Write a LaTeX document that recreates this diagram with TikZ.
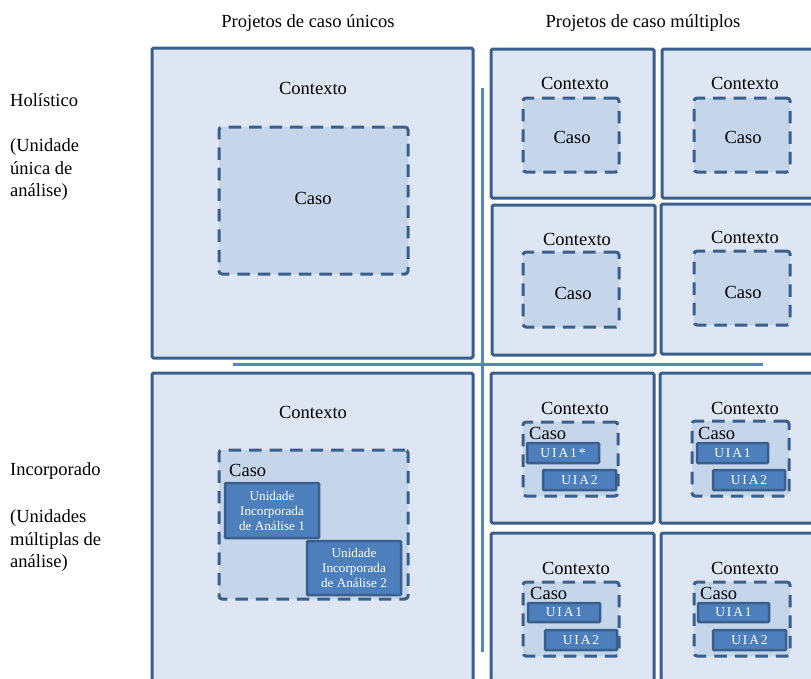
\documentclass[tikz,border=0pt]{standalone}
\usepackage{fontspec}
\setmainfont{Liberation Serif}
\usetikzlibrary{fit}
\definecolor{bordc}{HTML}{3A5F8D}
\definecolor{ctxfill}{HTML}{DDE6F2}
\definecolor{casefill}{HTML}{C5D5EA}
\definecolor{unitfill}{HTML}{4D7FBC}
\definecolor{divc}{HTML}{5585C3}
\begin{document}
\begin{tikzpicture}[x=1pt,y=-1pt,
  ctxbox/.style={draw=bordc, fill=ctxfill, line width=3pt, rounded corners=1.5pt, inner sep=0pt},
  casebox/.style={draw=bordc, fill=casefill, line width=3pt, dash pattern=on 12.5pt off 8pt, rounded corners=3pt, inner sep=0pt},
  unitbox/.style={draw=bordc, fill=unitfill, line width=2.5pt, rounded corners=1pt, inner sep=0pt},
  divider/.style={draw=divc, line width=3pt},
  lbl/.style={font=\fontsize{18.5}{20.5}\selectfont, inner sep=0pt},
  sidelbl/.style={font=\fontsize{18.5}{22.5}\selectfont, inner sep=0pt, align=left, anchor=west},
  unitlbl/.style={font=\fontsize{13.2}{15}\selectfont, text=white, align=center, inner sep=0pt},
  uialbl/.style={font=\fontsize{13.5}{15}\selectfont\addfontfeature{LetterSpace=14}, text=white, inner sep=0pt}
]
\useasboundingbox (0,0) rectangle (811,678);
\clip (0,0) rectangle (811,678);
\fill[white] (0,0) rectangle (811,678);

% headers
\node[lbl] (h1) at (308,23) {Projetos de caso únicos};
\node[lbl] (h2) at (643,23) {Projetos de caso múltiplos};

% side labels
\node[sidelbl] (s1) at (10,100) {Holístico};
\node[sidelbl] (s2) at (10,170) {(Unidade\\única de\\análise)};
\node[sidelbl] (s3) at (10,471) {Incorporado};
\node[sidelbl] (s4) at (10,541) {(Unidades\\múltiplas de\\análise)};

% dividers
\coordinate (vt) at (482,88);
\coordinate (vb) at (482,652);
\coordinate (hl) at (233,364);
\coordinate (hr) at (763,364);
\draw[divider] (vt) -- (vb);
\draw[divider] (hl) -- (hr);

% ---- single holistic
\node[ctxbox, fit={(152,48)(473,358)}] (bA) {};
\node[lbl] (tA) at (313,88) {Contexto};
\node[casebox, fit={(219,127)(408,274)}] (cA) {};
\node[lbl] (kA) at (313,198) {Caso};

% ---- single embedded
\node[ctxbox, fit={(152,373)(473,700)}] (bB) {};
\node[lbl] (tB) at (313,412) {Contexto};
\node[casebox, fit={(219,450)(408,599)}] (cB) {};
\node[lbl, anchor=west] (kB) at (229,470) {Caso};
\node[unitbox, fit={(225,483)(319,538)}] (uB1) {};
\node[unitlbl] at (uB1.center) {Unidade\\Incorporada\\de Análise 1};
\node[unitbox, fit={(307,541)(401,595)}] (uB2) {};
\node[unitlbl] at (uB2.center) {Unidade\\Incorporada\\de Análise 2};

% ---- multiple holistic row 1
\node[ctxbox, fit={(491,49)(654,198)}] (b1) {};
\node[lbl] (t1) at (575,83) {Contexto};
\node[casebox, fit={(523,98)(619,172)}] (c1) {};
\node[lbl] (k1) at (572,137) {Caso};

\node[ctxbox, fit={(662,49)(830,198)}] (b2) {};
\node[lbl] (t2) at (745,83) {Contexto};
\node[casebox, fit={(694,98)(790,172)}] (c2) {};
\node[lbl] (k2) at (743,137) {Caso};

% row 2
\node[ctxbox, fit={(492,205)(655,355)}] (b3) {};
\node[lbl] (t3) at (577,239) {Contexto};
\node[casebox, fit={(523,252)(619,327)}] (c3) {};
\node[lbl] (k3) at (573,293) {Caso};

\node[ctxbox, fit={(661,204)(830,354)}] (b4) {};
\node[lbl] (t4) at (745,237) {Contexto};
\node[casebox, fit={(694,251)(790,325)}] (c4) {};
\node[lbl] (k4) at (743,292) {Caso};

% ---- multiple embedded row 3
\node[ctxbox, fit={(491,373)(654,523)}] (b5) {};
\node[lbl] (t5) at (575,408) {Contexto};
\node[casebox, fit={(523,422)(618,496)}] (c5) {};
\node[lbl, anchor=west] (k5) at (529,433) {Caso};
\node[unitbox, fit={(527,443)(599,463)}] (u51) {};
\node[uialbl] at (u51.center) {UIA1*};
\node[unitbox, fit={(543,470)(616,490)}] (u52) {};
\node[uialbl] at (u52.center) {UIA2};

\node[ctxbox, fit={(660,373)(830,523)}] (b6) {};
\node[lbl] (t6) at (745,408) {Contexto};
\node[casebox, fit={(692,421)(789,496)}] (c6) {};
\node[lbl, anchor=west] (k6) at (698,433) {Caso};
\node[unitbox, fit={(697,443)(768,463)}] (u61) {};
\node[uialbl] at (u61.center) {UIA1};
\node[unitbox, fit={(713,470)(785,490)}] (u62) {};
\node[uialbl] at (u62.center) {UIA2};

% row 4
\node[ctxbox, fit={(491,533)(654,700)}] (b7) {};
\node[lbl] (t7) at (576,568) {Contexto};
\node[casebox, fit={(523,582)(619,656)}] (c7) {};
\node[lbl, anchor=west] (k7) at (530,593) {Caso};
\node[unitbox, fit={(528,603)(600,622)}] (u71) {};
\node[uialbl] at (u71.center) {UIA1};
\node[unitbox, fit={(545,630)(617,650)}] (u72) {};
\node[uialbl] at (u72.center) {UIA2};

\node[ctxbox, fit={(661,533)(830,700)}] (b8) {};
\node[lbl] (t8) at (745,568) {Contexto};
\node[casebox, fit={(694,582)(790,656)}] (c8) {};
\node[lbl, anchor=west] (k8) at (700,593) {Caso};
\node[unitbox, fit={(698,603)(769,622)}] (u81) {};
\node[uialbl] at (u81.center) {UIA1};
\node[unitbox, fit={(713,630)(786,650)}] (u82) {};
\node[uialbl] at (u82.center) {UIA2};
\end{tikzpicture}
\end{document}
